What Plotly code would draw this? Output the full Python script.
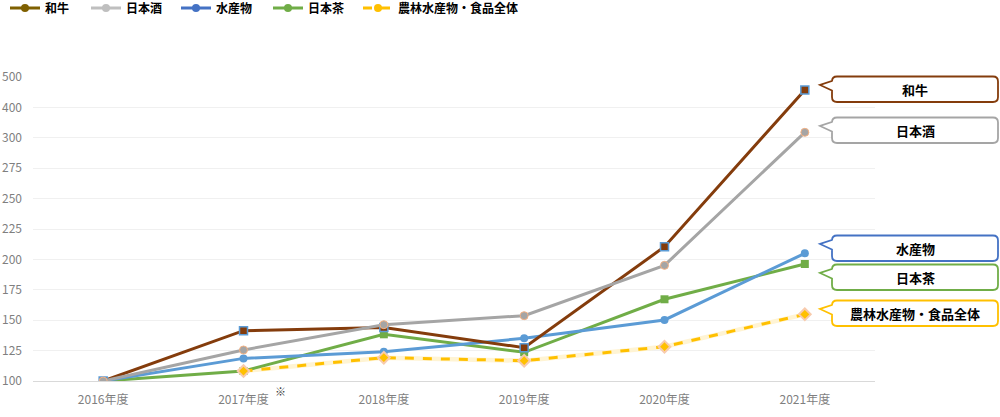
import plotly.graph_objects as go

categories = ["2016年度", "2017年度", "2018年度", "2019年度", "2020年度", "2021年度"]
wagyu = [100, 141.4, 144.0, 127.4, 210.4, 339.3]
sake = [100, 125.5, 146.3, 153.7, 195.1, 304.5]
fish = [100, 118.6, 124.1, 135.1, 150.2, 205.0]
tea = [100, 108.2, 138.4, 123.6, 167.2, 196.2]
total = [None, 108.2, 119.2, 116.7, 128.2, 154.8]

tick_vals = [100, 125, 150, 175, 200, 225, 250, 275, 300, 325, 350]
tick_text = ["100", "125", "150", "175", "200", "225", "250", "275", "300", "400", "500"]

series_names = ["和牛", "日本酒", "水産物", "日本茶", "農林水産物・食品全体"]
line_colors = ["#843c0c", "#a5a5a5", "#5b9bd5", "#70ad47", "#ffc000"]
legend_colors = ["#7f6000", "#bfbfbf", "#4472c4", "#70ad47", "#ffc000"]
box_colors = ["#843c0c", "#a5a5a5", "#4472c4", "#70ad47", "#ffc000"]

FONT = "Noto Sans CJK JP"
fig = go.Figure()

legend_ids = ["legend", "legend2", "legend3", "legend4", "legend5"]
legend_x_px = [5, 86, 176, 268, 358]

# legend-only entries (one legend per entry for exact placement)
for name, c, dash, lid in zip(series_names, legend_colors, ["solid"] * 4 + ["dash"], legend_ids):
    fig.add_trace(go.Scatter(x=[categories[0]], y=[None], name=name, mode="lines+markers",
                             line=dict(color=c, width=3, dash=dash),
                             marker=dict(symbol="circle", size=8, color=c),
                             showlegend=True, legend=lid))

# total (background)
fig.add_trace(go.Scatter(x=categories, y=total, mode="lines", line=dict(color="#fff4d4", width=4.5),
                         showlegend=False, hoverinfo="skip"))

fig.add_trace(go.Scatter(x=categories, y=tea, mode="lines+markers", showlegend=False,
                         line=dict(color=line_colors[3], width=3),
                         marker=dict(symbol="square", size=8, color=line_colors[3])))
fig.add_trace(go.Scatter(x=categories, y=fish, mode="lines+markers", showlegend=False,
                         line=dict(color=line_colors[2], width=3),
                         marker=dict(symbol="circle", size=8, color=line_colors[2])))
fig.add_trace(go.Scatter(x=categories, y=wagyu, mode="lines+markers", showlegend=False,
                         line=dict(color=line_colors[0], width=3),
                         marker=dict(symbol="square", size=8, color=line_colors[0],
                                     line=dict(color="#5b9bd5", width=1.5))))
fig.add_trace(go.Scatter(x=categories, y=sake, mode="lines+markers", showlegend=False,
                         line=dict(color=line_colors[1], width=3),
                         marker=dict(symbol="circle", size=8, color=line_colors[1],
                                     line=dict(color="#f4b183", width=1))))
fig.add_trace(go.Scatter(x=categories, y=total, mode="lines+markers", showlegend=False,
                         line=dict(color=line_colors[4], width=3, dash="dash"),
                         marker=dict(symbol="diamond", size=9, color=line_colors[4],
                                     line=dict(color="#f8cbad", width=2))))

# callouts (pixel geometry -> paper coords)
L0, T0, W0, H0 = 33, 77, 842, 304


def P(x, y):
    return f"{(x - L0) / W0:.5f},{(T0 + H0 - y) / H0:.5f}"


box_tops = [76.5, 117.5, 235.5, 264.5, 300.5]
BL, BR, BH, R = 832, 998, 25.5, 5
TIPX = 820
shapes = []
annotations = []
for name, c, t in zip(series_names, box_colors, box_tops):
    b = t + BH
    path = (f"M{P(BL + R, t)} L{P(BR - R, t)} Q{P(BR, t)} {P(BR, t + R)} "
            f"L{P(BR, b - R)} Q{P(BR, b)} {P(BR - R, b)} L{P(BL + R, b)} "
            f"Q{P(BL, b)} {P(BL, b - R)} L{P(BL, t + 14)} L{P(TIPX, t + 8.5)} "
            f"L{P(BL, t + 4.5)} L{P(BL, t + R)} Q{P(BL, t)} {P(BL + R, t)} Z")
    shapes.append(dict(type="path", path=path, xref="paper", yref="paper",
                       line=dict(color=c, width=1.8), fillcolor="white", layer="above"))
    annotations.append(dict(x=((BL + BR) / 2 - L0) / W0, y=(T0 + H0 - (t + BH / 2)) / H0,
                            xref="paper", yref="paper", text=f"<b>{name}</b>", showarrow=False,
                            font=dict(family=FONT, size=13, color="#000000"),
                            xanchor="center", yanchor="middle"))

annotations.append(dict(x=(280 - L0) / W0, y=(T0 + H0 - 391) / H0, xref="paper", yref="paper",
                        text="※", showarrow=False, font=dict(family=FONT, size=11, color="#404040"),
                        xanchor="center", yanchor="middle"))

legend_common = dict(orientation="h", xref="container", yref="container", y=1 - 8 / 417,
                     xanchor="left", yanchor="middle",
                     font=dict(family=FONT, size=12, color="#000000", weight="bold"),
                     bgcolor="rgba(0,0,0,0)", itemwidth=30)
legend_layout = {}
for lid, xp in zip(legend_ids, legend_x_px):
    legend_layout[lid] = dict(legend_common, x=xp / 1000)

fig.update_layout(
    width=1000, height=417,
    margin=dict(l=33, r=125, t=77, b=36),
    paper_bgcolor="white", plot_bgcolor="white",
    font=dict(family=FONT),
    showlegend=True,
    xaxis=dict(type="category", categoryorder="array", categoryarray=categories,
               range=[-0.5, 5.5], showgrid=False, showline=True, linecolor="#d9d9d9",
               linewidth=1, ticks="", ticklabelstandoff=8, automargin=False,
               tickfont=dict(family=FONT, size=12, color="#7f7f7f"), fixedrange=True),
    yaxis=dict(range=[100, 350], tickvals=tick_vals, ticktext=tick_text, showgrid=True,
               gridcolor="#f0f0f0", gridwidth=1, zeroline=False, showline=False, ticks="",
               tickfont=dict(family=FONT, size=12, color="#7f7f7f"), ticklabelstandoff=10,
               automargin=False, fixedrange=True),
    shapes=shapes, annotations=annotations,
    **legend_layout,
)

fig.write_html("out.html")
